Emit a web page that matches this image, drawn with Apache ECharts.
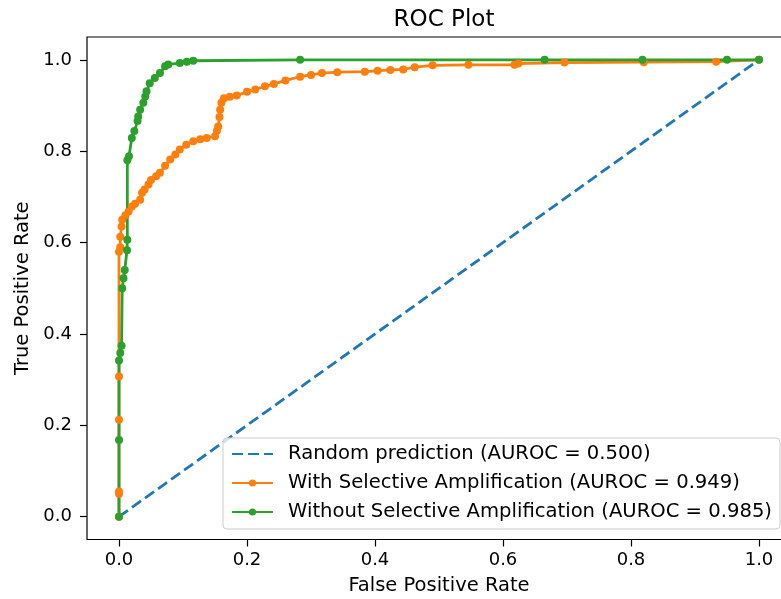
<!DOCTYPE html>
<html>
<head>
<meta charset="utf-8">
<script src="https://cdn.jsdelivr.net/npm/echarts@6.0.0/dist/echarts.min.js"></script>
<style>
html,body{margin:0;padding:0;background:#fff;}
#chart{width:781px;height:599px;}
</style>
</head>
<body>
<div id="chart"></div>
<script>
// ---- data ----
const tickValues = [0.0, 0.2, 0.4, 0.6, 0.8, 1.0];

const randomFpr = [0, 1];
const randomTpr = [0, 1];

const withFpr = [0, 0, 0, 0, 0, 0, 0.002, 0.002, 0.004, 0.005, 0.010, 0.015, 0.020, 0.025, 0.033, 0.036, 0.040, 0.046, 0.050, 0.058, 0.064, 0.072, 0.080, 0.088, 0.095, 0.105, 0.116, 0.127, 0.137, 0.150, 0.153, 0.155, 0.157, 0.158, 0.160, 0.164, 0.173, 0.184, 0.200, 0.213, 0.228, 0.242, 0.260, 0.283, 0.300, 0.317, 0.341, 0.384, 0.404, 0.424, 0.444, 0.462, 0.490, 0.546, 0.618, 0.624, 0.696, 0.820, 0.933, 1.0];
const withTpr = [0, 0.050, 0.055, 0.212, 0.307, 0.580, 0.590, 0.613, 0.635, 0.650, 0.660, 0.668, 0.679, 0.685, 0.694, 0.709, 0.716, 0.727, 0.737, 0.745, 0.753, 0.768, 0.782, 0.793, 0.804, 0.814, 0.822, 0.826, 0.829, 0.833, 0.845, 0.854, 0.875, 0.891, 0.906, 0.916, 0.919, 0.922, 0.930, 0.935, 0.942, 0.947, 0.955, 0.963, 0.967, 0.971, 0.973, 0.974, 0.976, 0.978, 0.979, 0.984, 0.988, 0.989, 0.989, 0.992, 0.994, 0.995, 0.996, 1.0];

const withoutFpr = [0, 0, 0, 0.002, 0.004, 0.005, 0.007, 0.009, 0.0125, 0.013, 0.013, 0.0156, 0.020, 0.024, 0.029, 0.030, 0.033, 0.038, 0.041, 0.043, 0.048, 0.056, 0.064, 0.072, 0.077, 0.095, 0.106, 0.116, 0.283, 0.665, 0.818, 0.950, 1.0];
const withoutTpr = [0, 0.168, 0.342, 0.358, 0.374, 0.500, 0.522, 0.540, 0.583, 0.606, 0.780, 0.789, 0.829, 0.844, 0.866, 0.876, 0.891, 0.906, 0.920, 0.931, 0.949, 0.960, 0.971, 0.986, 0.990, 0.993, 0.996, 0.998, 1.0, 1.0, 1.0, 1.0, 1.0];

const names = [
  'Random prediction (AUROC = 0.500)',
  'With Selective Amplification (AUROC = 0.949)',
  'Without Selective Amplification (AUROC = 0.985)'
];

function pairs(xs, ys) { return xs.map((x, i) => [x, ys[i]]); }

const FONT = 'DejaVu Sans';
const chart = echarts.init(document.getElementById('chart'), null, {renderer: 'canvas'});

const axisCommon = {
  type: 'value',
  min: -0.05,
  max: 1.05,
  splitLine: {show: false},
  axisLine: {show: false, onZero: false},
  axisTick: {show: true, inside: false, length: 7, customValues: tickValues, lineStyle: {color: '#000', width: 1.2}},
  axisLabel: {
    customValues: tickValues,
    color: '#000', fontFamily: FONT, fontSize: 18,
    formatter: v => v.toFixed(1)
  },
  nameLocation: 'middle',
  nameTextStyle: {color: '#000', fontFamily: FONT, fontSize: 19.5}
};

chart.setOption({
  animation: false,
  backgroundColor: '#fff',
  title: {
    text: 'ROC Plot',
    left: 439, top: 4, textAlign: 'center',
    textStyle: {color: '#000', fontFamily: FONT, fontSize: 23, fontWeight: 'normal'}
  },
  grid: {
    left: 87, top: 37, width: 704, height: 502.5,
    outerBoundsMode: 'none', containLabel: false,
    show: true, borderColor: '#000', borderWidth: 1.2, backgroundColor: 'transparent'
  },
  xAxis: Object.assign({}, axisCommon, {
    name: 'False Positive Rate', nameGap: 36,
    axisLabel: Object.assign({}, axisCommon.axisLabel, {margin: 12})
  }),
  yAxis: Object.assign({}, axisCommon, {
    name: 'True Positive Rate', nameGap: 54,
    axisLabel: Object.assign({}, axisCommon.axisLabel, {margin: 15})
  }),
  legend: {
    orient: 'vertical',
    left: 223, top: 438,
    padding: [6, 8, 7, 8],
    itemWidth: 41, itemHeight: 9, itemGap: 9,
    backgroundColor: 'rgba(255,255,255,0.8)',
    borderColor: '#cccccc', borderWidth: 1, borderRadius: 4,
    textStyle: {color: '#000', fontFamily: FONT, fontSize: 19.6, lineHeight: 20, padding: [0, 0, 0, 10]},
    data: [
      {name: names[0], itemStyle: {opacity: 0}},
      {name: names[1]},
      {name: names[2]}
    ]
  },
  series: [
    {
      name: names[0], type: 'line', data: pairs(randomFpr, randomTpr),
      symbol: 'none', color: '#1f77b4',
      lineStyle: {color: '#1f77b4', width: 2.8, type: [11, 5]}
    },
    {
      name: names[1], type: 'line', data: pairs(withFpr, withTpr),
      symbol: 'circle', symbolSize: 8, showAllSymbol: true, color: '#ff7f0e',
      itemStyle: {color: '#ff7f0e', borderWidth: 0},
      lineStyle: {color: '#ff7f0e', width: 2.8}
    },
    {
      name: names[2], type: 'line', data: pairs(withoutFpr, withoutTpr),
      symbol: 'circle', symbolSize: 8, showAllSymbol: true, color: '#2ca02c',
      itemStyle: {color: '#2ca02c', borderWidth: 0},
      lineStyle: {color: '#2ca02c', width: 2.8}
    }
  ]
});
</script>
</body>
</html>
